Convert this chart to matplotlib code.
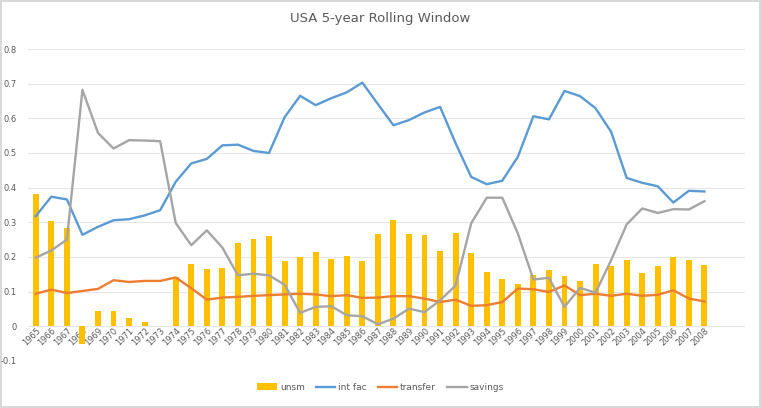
import numpy as np
import matplotlib.pyplot as plt

years = [str(y) for y in range(1965, 2009)]

unsm = [0.383, 0.304, 0.284, -0.05, 0.044, 0.043, 0.025, 0.013, 0.0, 0.142,
        0.181, 0.166, 0.169, 0.239, 0.253, 0.26, 0.188, 0.2, 0.215, 0.194,
        0.203, 0.188, 0.265, 0.308, 0.265, 0.263, 0.217, 0.269, 0.211, 0.156,
        0.137, 0.122, 0.149, 0.162, 0.144, 0.132, 0.179, 0.173, 0.191, 0.155,
        0.174, 0.199, 0.19, 0.176]

int_fac = [0.318, 0.374, 0.366, 0.264, 0.287, 0.306, 0.309, 0.32, 0.335, 0.417,
           0.47, 0.483, 0.522, 0.524, 0.506, 0.5, 0.603, 0.665, 0.638, 0.658,
           0.675, 0.703, 0.641, 0.58, 0.595, 0.617, 0.633, 0.528, 0.431, 0.41,
           0.42, 0.489, 0.606, 0.597, 0.679, 0.664, 0.629, 0.561, 0.428, 0.414,
           0.404, 0.357, 0.391, 0.389]

transfer = [0.094, 0.106, 0.096, 0.102, 0.108, 0.133, 0.128, 0.131, 0.131, 0.141,
            0.11, 0.077, 0.083, 0.085, 0.088, 0.09, 0.092, 0.094, 0.092, 0.087,
            0.09, 0.082, 0.083, 0.087, 0.087, 0.08, 0.07, 0.077, 0.059, 0.061,
            0.07, 0.109, 0.107, 0.099, 0.118, 0.09, 0.094, 0.088, 0.094, 0.088,
            0.091, 0.104, 0.08, 0.072]

savings = [0.198, 0.219, 0.25, 0.682, 0.558, 0.513, 0.537, 0.536, 0.534, 0.298,
           0.234, 0.277, 0.227, 0.147, 0.152, 0.147, 0.12, 0.039, 0.056, 0.058,
           0.032, 0.029, 0.006, 0.022, 0.051, 0.041, 0.075, 0.118, 0.297, 0.371,
           0.371, 0.268, 0.135, 0.14, 0.056, 0.111, 0.097, 0.191, 0.294, 0.34,
           0.327, 0.338, 0.337, 0.361]

grey = '#595959'
x = np.arange(len(years))

fig = plt.figure(figsize=(7.61, 4.08), dpi=100)
fig.patch.set_edgecolor('#d9d9d9')
fig.patch.set_linewidth(1.5)
ax = fig.add_axes([0.0368, 0.1152, 0.942, 0.7647])

b = ax.bar(x, unsm, width=0.38, color='#FFC000', label='unsm', zorder=2)
l1, = ax.plot(x, int_fac, color='#5B9BD5', lw=1.7, label='int fac', zorder=3)
l2, = ax.plot(x, transfer, color='#ED7D31', lw=1.7, label='transfer', zorder=3)
l3, = ax.plot(x, savings, color='#A5A5A5', lw=1.7, label='savings', zorder=3)

ax.set_ylim(-0.1, 0.8)
ax.set_xlim(-0.5, 45.6)
ax.set_yticks(np.arange(-0.1, 0.81, 0.1))
ax.set_yticklabels(['-0.1', '0', '0.1', '0.2', '0.3', '0.4', '0.5', '0.6', '0.7', '0.8'])
ax.set_xticks(x)
ax.set_xticklabels(years, rotation=45, ha='right', rotation_mode='anchor')
ax.tick_params(axis='both', length=0, labelsize=6, colors=grey)
ax.tick_params(axis='y', pad=8)
ax.tick_params(axis='x', pad=2)
ax.grid(axis='y', color='#e6e6e6', lw=0.8, zorder=0)
for s in ax.spines.values():
    s.set_visible(False)
for lbl in ax.get_xticklabels():
    lbl.set_y(0.12)

fig.text(0.5, 0.955, 'USA 5-year Rolling Window', ha='center', va='center',
         fontsize=9.5, color=grey)
fig.legend([b, l1, l2, l3], ['unsm', 'int fac', 'transfer', 'savings'],
           loc='lower center', bbox_to_anchor=(0.5, 0.02), ncol=4, frameon=False,
           fontsize=6.5, labelcolor=grey, handlelength=2.2, columnspacing=1.2,
           handletextpad=0.3)

fig.savefig('out.png', dpi=100)
